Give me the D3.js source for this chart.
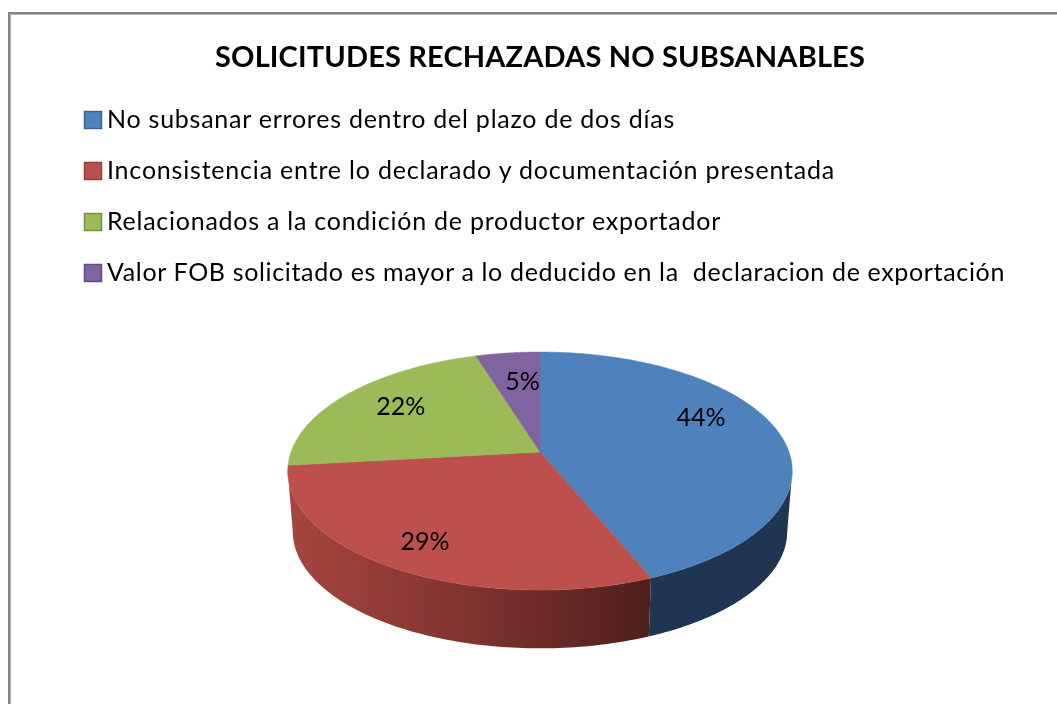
<!DOCTYPE html>
<html><head><meta charset="utf-8">
<script src="https://cdn.jsdelivr.net/npm/d3@7"></script>
<style>html,body{margin:0;padding:0;background:#fff}svg{display:block;filter:blur(0.35px)}text{font-family:Lato,"Open Sans",sans-serif;fill:#000}</style>
</head><body><svg id="c" width="1057" height="704"></svg>
<script>
const title = "SOLICITUDES RECHAZADAS NO SUBSANABLES";
const categories = [
  "No subsanar errores dentro del plazo de dos días",
  "Inconsistencia entre lo declarado y documentación presentada",
  "Relacionados a la condición de productor exportador",
  "Valor FOB solicitado es mayor a lo deducido en la  declaracion de exportación"
];
const values = [43.8, 29.4, 22.0, 4.8];
const topColors = ["#4f81bd", "#bd4f4c", "#9bbb59", "#8064a2"];
const legendEdge = ["#3a6496", "#963c3a", "#76923f", "#5f4a7c"];

const svg = d3.select("#c");
const W = 1057, H = 704;
svg.append("path").attr("d", `M10.5 ${H}V14.5H${W}`).attr("fill","none").attr("stroke","#b4b4b4").attr("stroke-width",1);
svg.append("path").attr("d", `M9 ${H}V13H${W}`).attr("fill","none").attr("stroke","#858585").attr("stroke-width",2);

const fit = (sel, w) => sel.each(function(){
  const n = this.getNumberOfChars(), d = w - this.getComputedTextLength();
  d3.select(this).style("letter-spacing", (d/n)+"px");
});
svg.append("text").attr("x",215).attr("y",66.5).style("font-size","29px").style("font-weight",700).text(title).call(fit,650);

const legendY = d3.scalePoint().domain(categories).range([119.5,272.5]);
const legendW = [567, 727, 613, 897];
const lg = svg.selectAll("g.lg").data(categories).join("g").attr("class","lg")
  .attr("transform", d=>`translate(0,${legendY(d)})`);
lg.append("rect").attr("x",84.5).attr("y",-8).attr("width",17).attr("height",17)
  .attr("fill",(d,i)=>topColors[i]).attr("stroke",(d,i)=>legendEdge[i]).attr("stroke-width",1.5);
lg.append("text").attr("x",107).attr("y",8.5).style("font-size","25px").style("white-space","pre").text(d=>d)
  .each(function(d,i){ d3.select(this).call(fit, legendW[i]+1); });

// 3D pie: projective mapping of a unit disc
const cx = 540, cy = 452, rx = 249, ry = 116, k = 0.16, depth = 61, shrink = 0.98;
const sx = d3.scaleLinear().domain([-1,1]).range([-rx,rx]);
const sy = d3.scaleLinear().domain([-1,1]).range([-ry,ry]);
const project = (a, r=1, bottom=false) => {
  const u = r*Math.sin(a), v = -r*Math.cos(a), s = 1/(1-k*v), m = bottom?shrink:1;
  return [cx + sx(u)*s*m, cy + sy(v)*s*m + (bottom?depth:0)];
};
const arcPts = (a0,a1,bottom=false) => d3.range(0,101).map(i=>project(a0+(a1-a0)*i/100,1,bottom));
const line = d3.line();
const pie = d3.pie().sort(null).value(d=>d)(values);

const defs = svg.append("defs");
const grad = defs.append("linearGradient").attr("id","redSide").attr("gradientUnits","userSpaceOnUse")
  .attr("x1",289).attr("x2",650).attr("y1",0).attr("y2",0);
grad.append("stop").attr("offset",0).attr("stop-color","#a5453f");
grad.append("stop").attr("offset",0.5).attr("stop-color","#80332f");
grad.append("stop").attr("offset",1).attr("stop-color","#4f1f1d");

const tL = Math.PI*2*(90+9.2)/360, tR = Math.PI*2*(270-9.2)/360;
const sides = [[tL, pie[0].endAngle, "#1f3552"], [pie[0].endAngle, tR, "url(#redSide)"]];
svg.selectAll("path.side").data(sides).join("path").attr("class","side")
  .attr("d", d=> line(arcPts(d[0],d[1]).concat(arcPts(d[0],d[1],true).reverse()))+"Z")
  .attr("fill", d=>d[2]);

svg.selectAll("path.top").data(pie).join("path").attr("class","top")
  .attr("d", d=> line([[cx,cy]].concat(arcPts(d.startAngle,d.endAngle)))+"Z")
  .attr("fill",(d,i)=>topColors[i]).attr("stroke",(d,i)=>topColors[i]).attr("stroke-width",0.5);

const nudge = [[3,-19],[-23,18],[-9,-5],[5,-1]];
svg.selectAll("text.val").data(pie).join("text").attr("class","val")
  .attr("text-anchor","middle").style("font-size","25px")
  .attr("x",(d,i)=>project((d.startAngle+d.endAngle)/2,.66)[0]+nudge[i][0])
  .attr("y",(d,i)=>project((d.startAngle+d.endAngle)/2,.66)[1]+nudge[i][1]+8)
  .text(d=>Math.round(d.value)+"%");
</script></body></html>
